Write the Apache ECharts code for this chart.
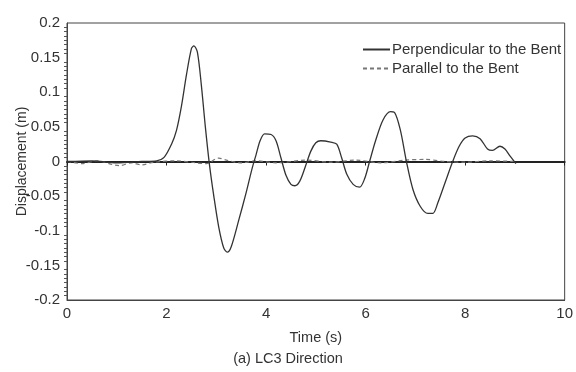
<!DOCTYPE html>
<html>
<head>
<meta charset="utf-8">
<script src="https://cdn.jsdelivr.net/npm/echarts@6/dist/echarts.min.js"></script>
<style>
html,body{margin:0;padding:0;background:#fff;}
#c{width:576px;height:372px;}
</style>
</head>
<body>
<div id="c"></div>
<script>
// Time (s) and displacement (m)
var perpTime = [0, 0.5, 1.0, 1.5, 1.8, 1.95, 2.1, 2.2, 2.3, 2.4, 2.5, 2.55, 2.62, 2.7, 2.78, 2.86, 2.95, 3.05, 3.15, 3.22, 3.3, 3.45, 3.6, 3.72, 3.8, 3.88, 3.97, 4.1, 4.2, 4.3, 4.4, 4.5, 4.58, 4.68, 4.8, 4.9, 5.0, 5.1, 5.3, 5.42, 5.52, 5.62, 5.75, 5.88, 5.98, 6.08, 6.2, 6.35, 6.5, 6.58, 6.7, 6.82, 6.95, 7.1, 7.25, 7.35, 7.45, 7.6, 7.75, 7.88, 8.0, 8.15, 8.3, 8.45, 8.55, 8.7, 8.8, 8.9, 9.02];
var perpDisp = [0, 0.001, -0.002, 0.0, 0.001, 0.006, 0.025, 0.045, 0.08, 0.125, 0.163, 0.167, 0.158, 0.11, 0.05, -0.003, -0.05, -0.095, -0.125, -0.131, -0.123, -0.085, -0.045, -0.01, 0.01, 0.03, 0.040, 0.039, 0.03, 0.005, -0.02, -0.033, -0.035, -0.028, -0.005, 0.015, 0.027, 0.030, 0.028, 0.025, 0.005, -0.018, -0.033, -0.037, -0.025, 0.0, 0.03, 0.06, 0.072, 0.071, 0.045, 0.0, -0.04, -0.065, -0.075, -0.075, -0.06, -0.03, 0.0, 0.022, 0.034, 0.037, 0.033, 0.018, 0.016, 0.022, 0.018, 0.008, -0.003];
var paraTime = [0, 0.3, 0.6, 1.05, 1.3, 1.5, 1.75, 2.2, 2.6, 2.8, 3.05, 3.2, 3.5, 3.8, 4.2, 4.8, 5.3, 5.8, 6.3, 6.8, 7.2, 7.6, 8.0, 8.5, 9.0];
var paraDisp = [0, -0.003, 0.001, -0.006, -0.002, -0.005, -0.001, 0.001, -0.002, -0.003, 0.005, 0.002, -0.002, 0.001, -0.002, 0.002, -0.001, 0.002, -0.002, 0.002, 0.003, 0.0, -0.001, 0.001, 0.0];
var seriesNames = ['Perpendicular to the Bent', 'Parallel to the Bent'];
var xTicks = [0, 2, 4, 6, 8, 10];
var yTicks = [-0.2, -0.15, -0.1, -0.05, 0, 0.05, 0.1, 0.15, 0.2];

function pairs(t, v){ return t.map(function(x,i){ return [x, v[i]]; }); }

var FONT = 'Liberation Sans';
var TXT = '#333';
var chart = echarts.init(document.getElementById('c'), null, {renderer:'canvas'});
chart.setOption({
  animation:false,
  backgroundColor:'#fff',
  textStyle:{fontFamily:FONT},
  grid:{left:67, right:11, top:23, bottom:72, show:true, borderColor:'#444', borderWidth:1, backgroundColor:'transparent'},
  legend:{
    orient:'vertical', left:357, top:37, itemWidth:27, itemHeight:14, itemGap:4,
    itemStyle:{opacity:0},
    textStyle:{fontFamily:FONT, fontSize:15, color:TXT, padding:[0,0,0,-3]},
    data:[{name:seriesNames[0]},{name:seriesNames[1]}]
  },
  xAxis:[{
    type:'value', min:xTicks[0], max:xTicks[xTicks.length-1], interval:2,
    name:'Time (s)', nameLocation:'middle', nameGap:30,
    nameTextStyle:{fontFamily:FONT, fontSize:14.5, color:TXT},
    axisLine:{onZero:false, lineStyle:{color:'#444', width:1}},
    axisTick:{show:false},
    axisLabel:{fontFamily:FONT, fontSize:15, color:TXT, margin:6},
    splitLine:{show:false}
  },{
    type:'value', min:xTicks[0], max:xTicks[xTicks.length-1], interval:2, position:'bottom',
    axisLine:{onZero:true, lineStyle:{color:'#222', width:2}},
    axisTick:{show:true, inside:false, length:4, lineStyle:{color:'#222', width:1}},
    axisLabel:{show:false},
    splitLine:{show:false}
  }],
  yAxis:{
    type:'value', min:yTicks[0], max:yTicks[yTicks.length-1], interval:0.05,
    name:'Displacement (m)', nameLocation:'middle', nameGap:38, nameMoveOverlap:false,
    nameTextStyle:{fontFamily:FONT, fontSize:14, color:TXT},
    axisLine:{lineStyle:{color:'#444', width:1}},
    axisTick:{show:false},
    minorTick:{show:true, splitNumber:8, length:3, lineStyle:{color:'#555'}},
    axisLabel:{fontFamily:FONT, fontSize:15, color:TXT, margin:7},
    splitLine:{show:false}
  },
  graphic:[{
    type:'text', left:'center', top:351,
    style:{text:'(a) LC3 Direction', font:'14.5px "Liberation Sans"', fill:TXT}
  }],
  series:[{
    name:seriesNames[0], type:'line', xAxisIndex:0, smooth:0.3, symbol:'none',
    lineStyle:{color:'#333', width:1.3, type:'solid'}, itemStyle:{color:'#333'},
    data:pairs(perpTime, perpDisp), z:3
  },{
    name:seriesNames[1], type:'line', xAxisIndex:0, smooth:0.3, symbol:'none',
    lineStyle:{color:'#777', width:1.2, type:[4,3]}, itemStyle:{color:'#777'},
    data:pairs(paraTime, paraDisp), z:2
  }]
});
</script>
</body>
</html>
